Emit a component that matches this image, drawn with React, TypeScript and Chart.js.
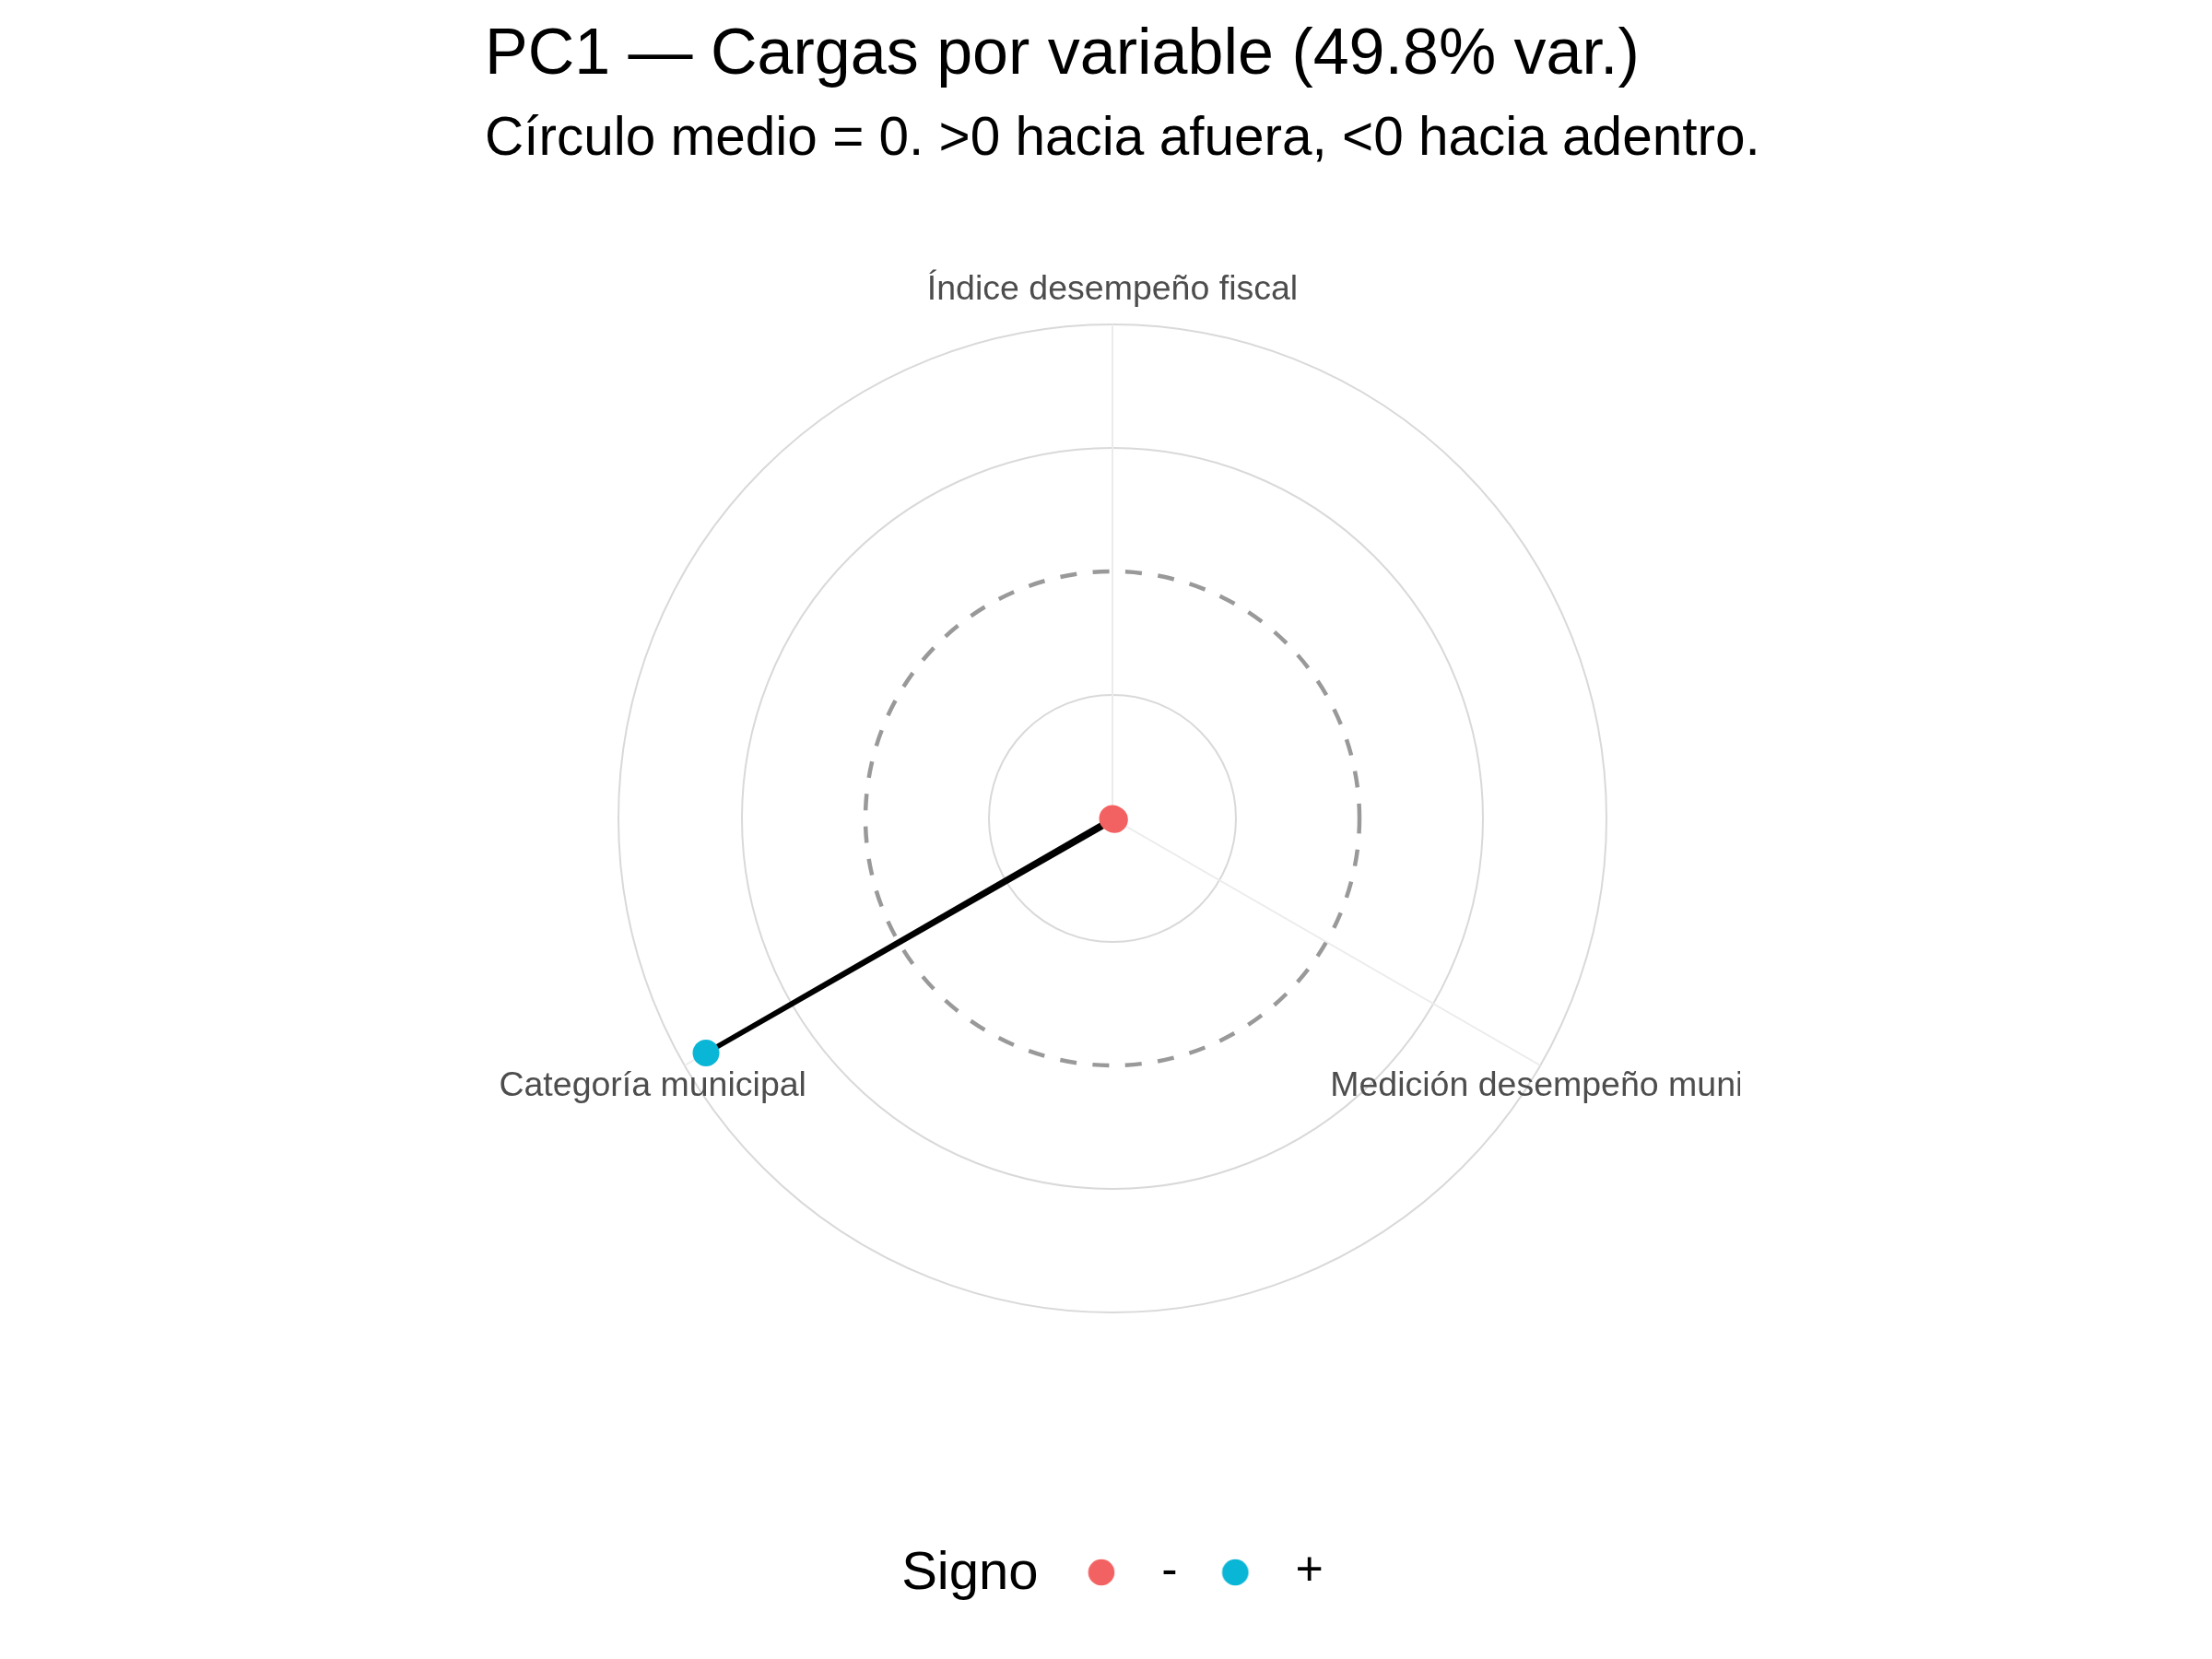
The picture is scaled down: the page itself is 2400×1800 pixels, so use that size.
import { useEffect, useRef } from 'react';
import { Chart, registerables } from 'chart.js';

Chart.register(...registerables);

// ---- Data (radial units: centre = -1, dashed ring = 0, outer ring = 1) ----
const variables = ['Índice desempeño fiscal', 'Medición desempeño municipal', 'Categoría municipal'];
const loadings = [-1.0, -0.99, 0.9];
const signLabels = ['-', '+'];
const signColors = ['#F36262', '#0AB6D6'];
const ringMin = -1;
const ringMax = 1;
const ringStep = 0.5;

const titleText = 'PC1 — Cargas por variable (49.8% var.)';
const subtitleText = 'Círculo medio = 0. >0 hacia afuera, <0 hacia adentro.';
const legendTitle = 'Signo';

const FONT = '"Liberation Sans", Arial, Helvetica, sans-serif';
const LABEL_SIZE = 37.5;
const LABEL_RADIUS_FACTOR = 576 / 536;

function makeMarker(color: string | null): HTMLCanvasElement {
  const c = document.createElement('canvas');
  c.width = 60;
  c.height = 32;
  const g = c.getContext('2d');
  if (g && color) {
    g.fillStyle = color;
    g.beginPath();
    g.arc(30 + 11.8, 16, 14.3, 0, Math.PI * 2);
    g.fill();
  }
  return c;
}

const axisLabelPlugin = {
  id: 'axisLabels',
  afterDatasetsDraw(chart: any) {
    const scale = chart.scales.r;
    const { ctx, chartArea } = chart;
    ctx.save();
    ctx.beginPath();
    ctx.rect(chartArea.left, 0, chartArea.right - chartArea.left, chart.height);
    ctx.clip();
    ctx.font = `${LABEL_SIZE}px ${FONT}`;
    ctx.fillStyle = '#4D4D4D';
    ctx.textAlign = 'center';
    ctx.textBaseline = 'alphabetic';
    const dist = scale.drawingArea * LABEL_RADIUS_FACTOR;
    (chart.data.labels as string[]).forEach((label, i) => {
      const p = scale.getPointPosition(i, dist);
      ctx.fillText(label, p.x, p.y + 0.358 * LABEL_SIZE);
    });
    ctx.restore();
  },
};

export default function App() {
  const ref = useRef<HTMLCanvasElement | null>(null);

  useEffect(() => {
    if (!ref.current) return;
    const blank = makeMarker(null);
    const markers = signColors.map((c) => makeMarker(c));

    const chart = new Chart(ref.current, {
      type: 'radar',
      data: {
        labels: variables,
        datasets: [
          {
            label: 'PC1',
            data: loadings,
            fill: false,
            borderColor: '#000000',
            borderWidth: 5.5,
            borderJoinStyle: 'round',
            tension: 0,
            pointRadius: 14.5,
            pointHoverRadius: 14.5,
            pointBorderWidth: 0,
            pointBorderColor: 'rgba(0,0,0,0)',
            pointBackgroundColor: (c: any) =>
              loadings[c.dataIndex] >= 0 ? signColors[1] : signColors[0],
          } as any,
        ],
      },
      plugins: [axisLabelPlugin],
      options: {
        responsive: false,
        maintainAspectRatio: false,
        animation: false,
        devicePixelRatio: 1,
        events: [],
        layout: { padding: { left: 526, right: 470, top: 0, bottom: 58 } },
        scales: {
          r: {
            min: ringMin,
            max: ringMax,
            ticks: { display: false, stepSize: ringStep },
            pointLabels: { display: false },
            angleLines: { display: true, color: '#EBEBEB', lineWidth: 2 },
            grid: {
              circular: true,
              color: (c: any) =>
                c.tick && c.tick.value === ringMin
                  ? 'rgba(0,0,0,0)'
                  : c.tick && c.tick.value === 0
                  ? '#999999'
                  : '#D9D9D9',
              lineWidth: (c: any) => (c.tick && c.tick.value === 0 ? 4.5 : 2),
            },
            border: {
              dash: (c: any) => (c.tick && c.tick.value === 0 ? [18, 17.5] : []),
              dashOffset: 1.55,
            } as any,
          },
          // invisible right-hand spacer so the subtitle can run past the panel edge
          spacer: {
            type: 'linear',
            position: 'right',
            display: true,
            grid: { display: false, drawTicks: false },
            ticks: { display: false },
            border: { display: false },
            title: { display: false },
            afterFit: (s: any) => {
              s.width = 42;
            },
          } as any,
        },
        plugins: {
          tooltip: { enabled: false },
          title: {
            display: true,
            text: titleText,
            align: 'start',
            color: '#000000',
            font: { family: FONT, size: 70, weight: 'normal', lineHeight: 1.2 },
            padding: { top: 19, bottom: 5 },
          },
          subtitle: {
            display: true,
            text: subtitleText,
            align: 'start',
            color: '#000000',
            font: { family: FONT, size: 58.5, weight: 'normal', lineHeight: 1.2 },
            padding: { top: 9, bottom: 164.8 },
          },
          legend: {
            display: true,
            position: 'bottom',
            align: 'center',
            fullSize: false,
            title: {
              display: true,
              text: legendTitle,
              color: '#000000',
              position: 'start',
              font: { family: FONT, size: 58, weight: 'normal', lineHeight: 1.2 },
              padding: { top: 254.9, bottom: -68.5 },
            } as any,
            labels: {
              usePointStyle: true,
              pointStyleWidth: 102,
              boxHeight: 20,
              padding: 0,
              color: '#000000',
              font: { family: FONT, size: 52, weight: 'normal' },
              generateLabels: () => [
                {
                  text: '\u2002',
                  fillStyle: 'rgba(0,0,0,0)',
                  strokeStyle: 'rgba(0,0,0,0)',
                  lineWidth: 0,
                  pointStyle: blank,
                  hidden: false,
                  datasetIndex: 0,
                } as any,
                ...signLabels.map((t, i) => ({
                  text: t,
                  fillStyle: signColors[i],
                  strokeStyle: 'rgba(0,0,0,0)',
                  lineWidth: 0,
                  pointStyle: markers[i],
                  hidden: false,
                  datasetIndex: 0,
                })),
              ],
            },
          },
        },
      } as any,
    });
    return () => chart.destroy();
  }, []);

  return (
    <div style={{ position: 'fixed', left: 0, top: 0, width: 2400, height: 1800, background: '#ffffff' }}>
      <canvas ref={ref} width={2400} height={1800} style={{ display: 'block' }} />
    </div>
  );
}
